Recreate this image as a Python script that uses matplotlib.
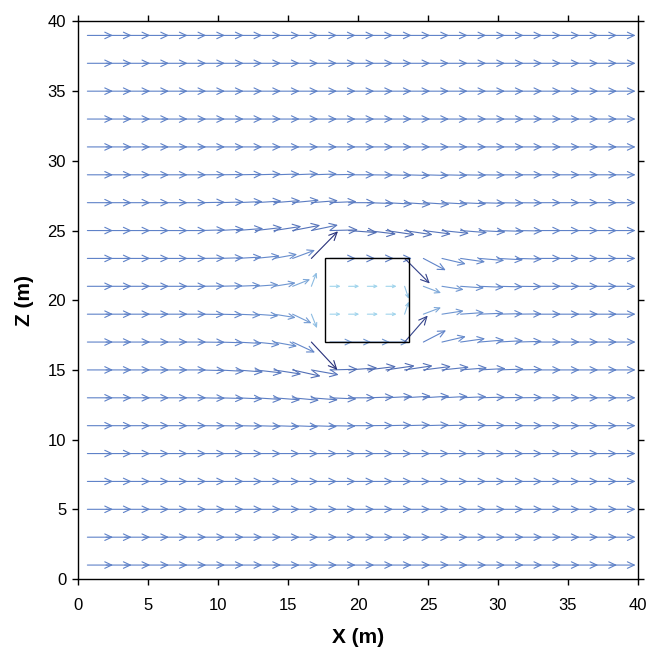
import numpy as np
import matplotlib.pyplot as plt
from matplotlib.patches import FancyArrowPatch, Rectangle, ArrowStyle
from matplotlib.colors import LinearSegmentedColormap, Normalize

plt.rcParams['font.family'] = ['Liberation Sans', 'DejaVu Sans']

# arrow grid (m)
x_cols = [0.67, 2.0, 3.33, 4.67, 6.0, 7.33, 8.67, 10.0, 11.33, 12.67,
          14.0, 15.33, 16.67, 18.0, 19.33, 20.67, 22.0, 23.33, 24.67, 26.0,
          27.33, 28.67, 30.0, 31.33, 32.67, 34.0, 35.33, 36.67, 38.0]
z_rows = [1, 3, 5, 7, 9, 11, 13, 15, 17, 19, 21, 23, 25, 27, 29, 31, 33, 35, 37, 39]

# free stream vector, same everywhere away from the block
u_free = 1.83
w_free = 0.0

# disturbed rows near the block, columns 6..23 (x = 8.67 .. 31.33)
k_first = 6
u_near = {
    29: [1.84] * 18,
    27: [1.84, 1.85, 1.86, 1.87, 1.88, 1.89, 1.9, 1.9, 1.9, 1.9, 1.89, 1.88, 1.87, 1.86, 1.85, 1.85, 1.84, 1.84],
    25: [1.85, 1.87, 1.9, 1.92, 1.95, 1.97, 1.9, 2.0, 2.05, 2.05, 2.05, 2.0, 1.97, 1.93, 1.9, 1.88, 1.86, 1.85],
    23: [1.83, 1.82, 1.8, 1.75, 1.65, 1.6, 1.9, 1.85, 1.9, 1.9, 1.85, 1.8, 1.6, 1.7, 1.75, 1.78, 1.8, 1.82],
    21: [1.8, 1.78, 1.72, 1.65, 1.55, 1.25, 0.38, 0.76, 0.76, 0.76, 0.76, 0.3, 1.26, 1.55, 1.68, 1.75, 1.78, 1.8],
    19: [1.8, 1.78, 1.72, 1.65, 1.55, 1.35, 0.4, 0.76, 0.76, 0.76, 0.76, 0.3, 1.26, 1.55, 1.68, 1.75, 1.78, 1.8],
    17: [1.83, 1.82, 1.8, 1.75, 1.65, 1.6, 1.86, 1.6, 1.6, 1.6, 1.6, 1.65, 1.62, 1.7, 1.75, 1.78, 1.8, 1.82],
    15: [1.85, 1.87, 1.9, 1.92, 1.95, 2.0, 1.95, 2.0, 2.05, 2.05, 2.05, 2.0, 1.97, 1.93, 1.9, 1.88, 1.86, 1.85],
    13: [1.84, 1.85, 1.86, 1.87, 1.88, 1.89, 1.9, 1.9, 1.9, 1.9, 1.89, 1.88, 1.87, 1.86, 1.85, 1.85, 1.84, 1.84],
    11: [1.84] * 18,
}
w_near = {
    29: [0.01, 0.02, 0.03, 0.05, 0.06, 0.07, 0.06, 0.03, 0.0, -0.02, -0.04, -0.05, -0.05, -0.04, -0.03, -0.02, -0.01, 0.0],
    27: [0.03, 0.05, 0.08, 0.12, 0.15, 0.18, 0.15, 0.08, 0.0, -0.06, -0.1, -0.12, -0.12, -0.1, -0.08, -0.05, -0.03, -0.02],
    25: [0.05, 0.1, 0.15, 0.22, 0.3, 0.38, 0.4, 0.05, -0.15, -0.25, -0.3, -0.3, -0.25, -0.2, -0.15, -0.1, -0.06, -0.03],
    23: [0.02, 0.05, 0.1, 0.18, 0.3, 0.6, 1.95, 0.0, 0.0, 0.0, 0.0, -1.8, -0.85, -0.4, -0.25, -0.15, -0.1, -0.05],
    21: [0.02, 0.04, 0.07, 0.12, 0.25, 0.5, 1.0, 0.0, 0.0, 0.0, 0.0, -0.9, -0.48, -0.24, -0.12, -0.07, -0.04, -0.02],
    19: [-0.02, -0.04, -0.07, -0.12, -0.25, -0.65, -1.0, 0.0, 0.0, 0.0, 0.0, 0.9, 0.48, 0.24, 0.12, 0.07, 0.04, 0.02],
    17: [-0.02, -0.05, -0.1, -0.18, -0.3, -0.75, -2.0, 0.0, 0.0, 0.0, 0.0, 1.9, 0.84, 0.4, 0.25, 0.15, 0.1, 0.05],
    15: [-0.05, -0.1, -0.15, -0.22, -0.3, -0.45, -0.35, 0.05, 0.15, 0.25, 0.3, 0.3, 0.25, 0.2, 0.15, 0.1, 0.06, 0.03],
    13: [-0.03, -0.05, -0.08, -0.12, -0.15, -0.18, -0.15, -0.08, 0.0, 0.06, 0.1, 0.12, 0.12, 0.1, 0.08, 0.05, 0.03, 0.02],
    11: [-0.01, -0.02, -0.03, -0.05, -0.06, -0.07, -0.06, -0.03, 0.0, 0.02, 0.04, 0.05, 0.05, 0.04, 0.03, 0.02, 0.01, 0.0],
}

# block outline (m)
box_x0, box_z0 = 17.67, 17.0
box_w, box_h = 6.0, 6.0

fig = plt.figure(figsize=(6.5, 6.51), dpi=100)
ax = fig.add_axes([0.12, 0.1106, 0.8615, 0.8564])

cmap = LinearSegmentedColormap.from_list(
    'spd', [(0.0, '#a3d8ee'), (0.54, '#5f82c8'), (1.0, '#232a74')])
norm = Normalize(vmin=0.7, vmax=2.8)

px_per_m = 14.0
for z in z_rows:
    for k, x in enumerate(x_cols):
        u, w = u_free, w_free
        if z in u_near and k_first <= k < k_first + len(u_near[z]):
            u = u_near[z][k - k_first]
            w = w_near[z][k - k_first]
        mag = np.hypot(u, w)
        hl = min(0.27 * mag * px_per_m, 8.0) * 0.72
        style = ArrowStyle('->', head_length=hl, head_width=0.47 * hl)
        arr = FancyArrowPatch((x, z), (x + u, z + w), arrowstyle=style,
                              mutation_scale=1, lw=0.8, color=cmap(norm(mag)),
                              shrinkA=0, shrinkB=0)
        ax.add_patch(arr)

ax.add_patch(Rectangle((box_x0, box_z0), box_w, box_h, fill=False,
                       ec='black', lw=1.0, zorder=3))

ax.set_xlim(0, 40)
ax.set_ylim(0, 40)
ax.set_xticks(range(0, 41, 5))
ax.set_yticks(range(0, 41, 5))
ax.tick_params(direction='out', length=4.5, width=1, labelsize=12,
               top=True, right=True, colors='black')
ax.tick_params(axis='x', pad=9)
ax.tick_params(axis='y', pad=4)
for s in ax.spines.values():
    s.set_linewidth(1.0)

ax.set_xlabel('X (m)', fontsize=15, fontweight='bold', labelpad=11)
ax.set_ylabel('Z (m)', fontsize=15, fontweight='bold', labelpad=10)

plt.savefig('out.png', dpi=100)
